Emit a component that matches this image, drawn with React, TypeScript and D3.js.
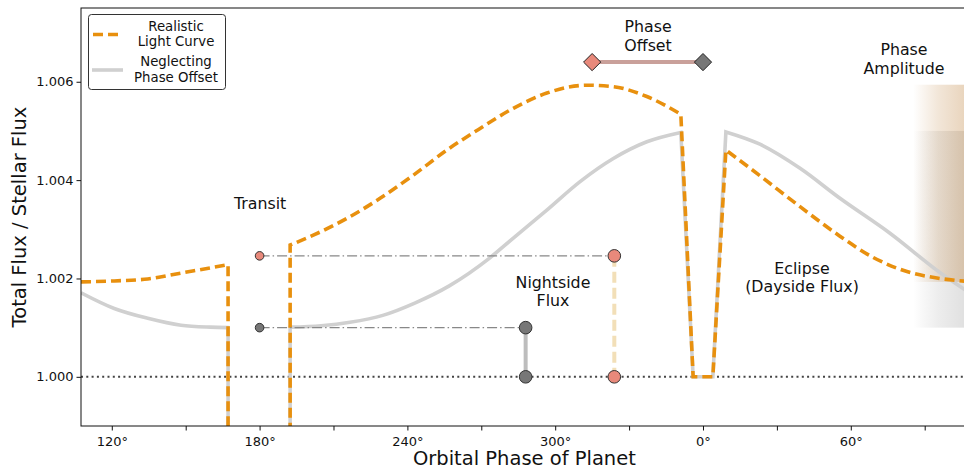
import React, { useEffect, useRef } from "react";
import * as d3 from "d3";

// phase in degrees, running past 360 so that eclipse (0°) sits inside the plot
const realisticBefore = [
  [107.5, 1.00193], [121.0, 1.00195], [134.6, 1.00199], [148.1, 1.00211],
  [161.6, 1.00223], [167.2, 1.00228],
];
const realisticDay = [
  [192.4, 1.00268], [201.8, 1.00288], [215.4, 1.00322], [228.9, 1.00363],
  [242.4, 1.0041], [256.0, 1.00461], [269.5, 1.00505], [283.0, 1.00546],
  [296.6, 1.00577], [312.8, 1.00593], [323.6, 1.0059], [337.2, 1.0057],
  [351.0, 1.00534],
];
const realisticAfter = [
  [369.3, 1.00461], [383.1, 1.00409], [399.4, 1.00346], [415.6, 1.00286],
  [429.0, 1.00243], [442.8, 1.00214], [456.2, 1.002], [467.5, 1.00194],
];

const neglectBefore = [
  [107.5, 1.00171], [121.0, 1.00139], [134.6, 1.00119], [148.1, 1.00105],
  [160.0, 1.00101], [167.2, 1.001],
];
const neglectDay = [
  [192.4, 1.00101], [205.0, 1.00104], [216.7, 1.00111], [230.0, 1.00125],
  [243.0, 1.0015], [257.0, 1.00185], [273.5, 1.00242], [283.0, 1.00282],
  [296.6, 1.00339], [310.1, 1.00397], [323.6, 1.00444], [337.2, 1.00478],
  [351.0, 1.00497],
];
const neglectAfter = [
  [369.3, 1.00498], [383.1, 1.00473], [399.4, 1.00424], [415.6, 1.00363],
  [435.9, 1.00292], [456.2, 1.00212], [467.5, 1.00173],
];

const transitPhases = [167.2, 192.4];
const transitFloor = 0.996; // transit dips far below the axis
const eclipsePhases = [351.0, 356.0, 364.0, 369.3];
const eclipseFlux = 1.0;

// annotation markers
const offsetPhases = [315, 360];
const offsetFlux = 1.0064;
const nightRefPhase = 180;
const nightFlux = [1.00246, 1.001]; // realistic, neglecting
const nightPhases = [324, 288]; // realistic, neglecting

// phase amplitude bands
const amplitudePhase = [445.3, 467.5];
const amplitudeRealistic = [1.00193, 1.00594];
const amplitudeNeglect = [1.001, 1.005];

const yTicks = [1.0, 1.002, 1.004, 1.006];
const xTicks = d3.range(120, 467, 30);

const notes = [
  { lines: ["Phase", "Offset"], phase: 337.7, flux: 1.00701 },
  { lines: ["Phase", "Amplitude"], phase: 441.6, flux: 1.00654 },
  { lines: ["Transit"], phase: 180.2, flux: 1.00341 },
  { lines: ["Nightside", "Flux"], phase: 299.1, flux: 1.00181 },
  { lines: ["Eclipse", "(Dayside Flux)"], phase: 400.2, flux: 1.0021 },
];

const ORANGE = "#e8900e";
const GREY = "#d0d0d0";
const PINK = "#e8897b";
const DARKGREY = "#777777";
const FONT = "DejaVu Sans";

const App = () => {
  const ref = useRef<SVGSVGElement>(null);

  useEffect(() => {
    const width = 964;
    const height = 474;
    const left = 81;
    const right = 967.8;
    const top = 8;
    const bottom = 426;

    const x = d3.scaleLinear().domain([107.5, 467.5]).range([left, right]);
    const y = d3.scaleLinear().domain([0.999, 1.0075]).range([bottom, top]);

    const svg = d3.select(ref.current);
    svg.selectAll("*").remove();
    svg.attr("width", width).attr("height", height).attr("font-family", FONT);

    const defs = svg.append("defs");
    defs.append("clipPath").attr("id", "plot")
      .append("rect").attr("x", left).attr("y", top)
      .attr("width", right - left).attr("height", bottom - top);

    const grad = (id: string, color: string, op: number) => {
      const g = defs.append("linearGradient").attr("id", id)
        .attr("x1", "0%").attr("x2", "100%").attr("y1", "0%").attr("y2", "0%");
      g.append("stop").attr("offset", "0%").attr("stop-color", color).attr("stop-opacity", 0);
      g.append("stop").attr("offset", "45%").attr("stop-color", color).attr("stop-opacity", op * 0.55);
      g.append("stop").attr("offset", "100%").attr("stop-color", color).attr("stop-opacity", op);
    };
    grad("gGrey", "#9a9a9a", 0.32);
    grad("gTan", "#c8955a", 0.42);

    const plot = svg.append("g").attr("clip-path", "url(#plot)");

    // phase amplitude shading
    [[amplitudeNeglect, "url(#gGrey)"], [amplitudeRealistic, "url(#gTan)"]].forEach(([r, fill]) => {
      const [lo, hi] = r as number[];
      plot.append("rect")
        .attr("x", x(amplitudePhase[0])).attr("width", x(amplitudePhase[1]) - x(amplitudePhase[0]))
        .attr("y", y(hi)).attr("height", y(lo) - y(hi))
        .attr("fill", fill as string);
    });

    // stellar flux baseline
    plot.append("line")
      .attr("x1", left).attr("x2", right).attr("y1", y(1)).attr("y2", y(1))
      .attr("stroke", "#444").attr("stroke-width", 2).attr("stroke-dasharray", "2,3.3");

    const line = d3.line<number[]>().x((d) => x(d[0])).y((d) => y(d[1])).curve(d3.curveMonotoneX);
    const jump = (pts: number[][]) => pts.map((p) => `L${x(p[0])},${y(p[1])}`).join("");
    const lightCurve = (before: number[][], day: number[][], after: number[][]) =>
      line(before)! +
      jump([[transitPhases[0], transitFloor], [transitPhases[1], transitFloor]]) +
      line(day)!.replace(/^M/, "L") +
      jump([[eclipsePhases[1], eclipseFlux], [eclipsePhases[2], eclipseFlux]]) +
      line(after)!.replace(/^M/, "L");

    plot.append("path")
      .attr("d", lightCurve(neglectBefore, neglectDay, neglectAfter))
      .attr("fill", "none").attr("stroke", GREY).attr("stroke-width", 3.6);
    plot.append("path")
      .attr("d", lightCurve(realisticBefore, realisticDay, realisticAfter))
      .attr("fill", "none").attr("stroke", ORANGE).attr("stroke-width", 3.6)
      .attr("stroke-dasharray", "10,5");

    // nightside flux guides
    nightFlux.forEach((f, i) => {
      plot.append("line")
        .attr("x1", x(nightRefPhase)).attr("x2", x(nightPhases[i]))
        .attr("y1", y(f)).attr("y2", y(f))
        .attr("stroke", "#888").attr("stroke-width", 1.2)
        .attr("stroke-dasharray", "10,3,1.5,3");
    });
    plot.append("line")
      .attr("x1", x(nightPhases[0])).attr("x2", x(nightPhases[0]))
      .attr("y1", y(nightFlux[0])).attr("y2", y(1))
      .attr("stroke", "#f2dfb8").attr("stroke-width", 4).attr("stroke-dasharray", "11,5");
    plot.append("line")
      .attr("x1", x(nightPhases[1])).attr("x2", x(nightPhases[1]))
      .attr("y1", y(nightFlux[1])).attr("y2", y(1))
      .attr("stroke", "#bdbdbd").attr("stroke-width", 4);

    const dot = (p: number, f: number, r: number, fill: string) =>
      plot.append("circle").attr("cx", x(p)).attr("cy", y(f)).attr("r", r)
        .attr("fill", fill).attr("stroke", "#333").attr("stroke-width", 1);
    dot(nightRefPhase, nightFlux[0], 4.3, PINK);
    dot(nightRefPhase, nightFlux[1], 4.3, DARKGREY);
    dot(nightPhases[1], nightFlux[1], 6.3, DARKGREY);
    dot(nightPhases[1], 1, 6.3, DARKGREY);
    dot(nightPhases[0], nightFlux[0], 6.3, PINK);
    dot(nightPhases[0], 1, 6.3, PINK);

    // phase offset bar
    plot.append("line")
      .attr("x1", x(offsetPhases[0])).attr("x2", x(offsetPhases[1]))
      .attr("y1", y(offsetFlux)).attr("y2", y(offsetFlux))
      .attr("stroke", "#c9a09a").attr("stroke-width", 4);
    offsetPhases.forEach((p, i) => {
      const cx = x(p);
      const cy = y(offsetFlux);
      const s = 8.6;
      plot.append("path")
        .attr("d", `M${cx},${cy - s}L${cx + s},${cy}L${cx},${cy + s}L${cx - s},${cy}Z`)
        .attr("fill", i === 0 ? PINK : DARKGREY).attr("stroke", "#222").attr("stroke-width", 1);
    });

    // annotations
    notes.forEach((n) => {
      n.lines.forEach((s, i) => {
        svg.append("text").attr("text-anchor", "middle")
          .attr("font-size", 15.8).attr("fill", "#111")
          .attr("x", x(n.phase)).attr("y", y(n.flux) + i * 18.5).text(s);
      });
    });

    // axes
    const xAxis = svg.append("g").attr("transform", `translate(0,${bottom})`)
      .call(d3.axisBottom(x).tickValues(xTicks).tickSize(4.5).tickSizeOuter(0)
        .tickFormat((d) => ((+d) % 60 === 0 ? `${(+d) % 360}°` : "")));
    xAxis.select(".domain").remove();
    xAxis.selectAll("text").attr("font-size", 13).attr("font-family", FONT).attr("dy", "0.95em").attr("fill", "#111");
    xAxis.selectAll("line").attr("stroke", "#111");

    const yAxis = svg.append("g").attr("transform", `translate(${left},0)`)
      .call(d3.axisLeft(y).tickValues(yTicks).tickSize(4.5).tickFormat(d3.format(".3f")));
    yAxis.select(".domain").remove();
    yAxis.selectAll("text").attr("font-size", 13).attr("font-family", FONT).attr("fill", "#111");
    yAxis.selectAll("line").attr("stroke", "#111");

    // spines
    svg.append("rect")
      .attr("x", left).attr("y", top).attr("width", right - left).attr("height", bottom - top)
      .attr("fill", "none").attr("stroke", "#111").attr("stroke-width", 1);

    svg.append("text").attr("x", (left + right) / 2).attr("y", 465)
      .attr("text-anchor", "middle").attr("font-size", 19.5).attr("fill", "#111")
      .text("Orbital Phase of Planet");
    svg.append("text").attr("transform", `translate(26,${(top + bottom) / 2}) rotate(-90)`)
      .attr("text-anchor", "middle").attr("font-size", 19.5).attr("fill", "#111")
      .text("Total Flux / Stellar Flux");

    // legend
    const lg = svg.append("g");
    lg.append("rect").attr("x", 88.5).attr("y", 14.5).attr("width", 137).attr("height", 75)
      .attr("rx", 3).attr("fill", "white").attr("stroke", "#333").attr("stroke-width", 1);
    lg.append("line").attr("x1", 93).attr("x2", 122).attr("y1", 34.5).attr("y2", 34.5)
      .attr("stroke", ORANGE).attr("stroke-width", 3.6).attr("stroke-dasharray", "10,5");
    lg.append("line").attr("x1", 92).attr("x2", 123).attr("y1", 70).attr("y2", 70)
      .attr("stroke", GREY).attr("stroke-width", 3.6);
    const entries = [
      [["Realistic", "Light Curve"], 30.5],
      [["Neglecting", "Phase Offset"], 66],
    ] as [string[], number][];
    entries.forEach(([lines, y0]) => {
      lines.forEach((s, i) =>
        lg.append("text").attr("text-anchor", "middle").attr("font-size", 13.3).attr("fill", "#111")
          .attr("x", 176).attr("y", y0 + i * 15.5).text(s));
    });
  }, []);

  return (
    <svg ref={ref} style={{ position: "absolute", left: 0, top: 0, display: "block" }}></svg>
  );
};

export default App;
